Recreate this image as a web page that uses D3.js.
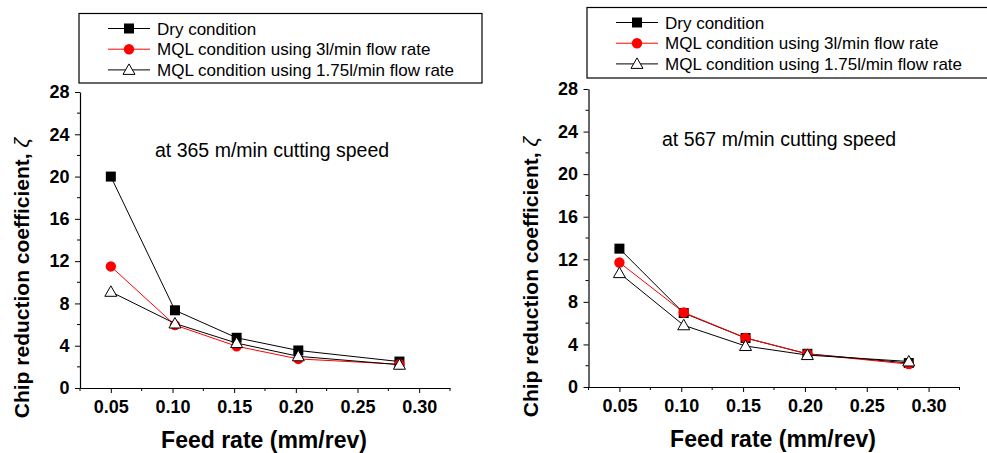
<!DOCTYPE html>
<html>
<head>
<meta charset="utf-8">
<script src="https://cdn.jsdelivr.net/npm/d3@7"></script>
<style>
body { margin: 0; background: #fff; }
text { font-family: "Liberation Sans", Arial, sans-serif; }
</style>
</head>
<body>
<div id="chart"></div>
<script>
var w = 987, h = 453

// feed rates (mm/rev)
var feed = [0.05, 0.102, 0.152, 0.202, 0.284]

// chip reduction coefficient at 365 m/min
var dry365 = [20.0, 7.35, 4.75, 3.55, 2.5]
var mql3_365 = [11.5, 5.95, 3.95, 2.75, 2.25]
var mql175_365 = [9.1, 6.1, 4.25, 3.0, 2.2]

// chip reduction coefficient at 567 m/min
var dry567 = [13.0, 6.95, 4.6, 3.12, 2.25]
var mql3_567 = [11.7, 7.0, 4.62, 3.1, 2.15]
var mql175_567 = [10.7, 5.8, 3.85, 3.0, 2.4]

var xTicks = [0.05, 0.10, 0.15, 0.20, 0.25, 0.30]
var yTicks = [0, 4, 8, 12, 16, 20, 24, 28]
var seriesNames = ["Dry condition", "MQL condition using 3l/min flow rate", "MQL condition using 1.75l/min flow rate"]

var svg = d3.select("#chart")
	.append("svg")
	.attr("width", w)
	.attr("height", h)

var styles = [
	{color: "#000", marker: "square"},
	{color: "#ff0000", marker: "circle"},
	{color: "#000", marker: "triangle"}
]

function drawMarker(g, type, x, y, color) {
	if (type == "square") {
		g.append("rect")
			.attr("x", x - 5).attr("y", y - 5)
			.attr("width", 10).attr("height", 10)
			.attr("fill", "#000")
	} else if (type == "circle") {
		g.append("circle")
			.attr("cx", x).attr("cy", y).attr("r", 5.2)
			.attr("fill", color)
	} else {
		g.append("path")
			.attr("d", "M" + x + "," + (y - 6) + "L" + (x + 6) + "," + (y + 4.5) + "L" + (x - 6) + "," + (y + 4.5) + "Z")
			.attr("fill", "#fff")
			.attr("stroke", "#000")
			.attr("stroke-width", 1)
	}
}

function drawPanel(p) {
	var g = svg.append("g")

	var x = d3.scaleLinear().domain([0.025, 0.325]).range(p.xr)
	var y = d3.scaleLinear().domain([0, 28]).range(p.yr)

	// minor ticks
	var minorY = d3.range(2, 28, 4)
	g.selectAll(".minY").data(minorY).enter().append("line")
		.attr("x1", p.xr[0] - 3).attr("x2", p.xr[0])
		.attr("y1", function(d) {return y(d)}).attr("y2", function(d) {return y(d)})
		.attr("stroke", "#000")
	var minorX = [0.025, 0.075, 0.125, 0.175, 0.225, 0.275, 0.325]
	g.selectAll(".minX").data(minorX).enter().append("line")
		.attr("y1", p.yr[0]).attr("y2", p.yr[0] + 3)
		.attr("x1", function(d) {return x(d)}).attr("x2", function(d) {return x(d)})
		.attr("stroke", "#000")

	var xAxis = g.append("g")
		.attr("transform", "translate(0," + p.yr[0] + ")")
		.call(d3.axisBottom(x).tickValues(xTicks).tickFormat(d3.format(".2f")).tickSize(5).tickSizeOuter(0))
	var yAxis = g.append("g")
		.attr("transform", "translate(" + p.xr[0] + ",0)")
		.call(d3.axisLeft(y).tickValues(yTicks).tickSize(5).tickSizeOuter(0))

	;[xAxis, yAxis].forEach(function(a) {
		a.select(".domain").attr("stroke", "#000").attr("stroke-width", 1.2)
		a.selectAll("text")
			.style("font-family", "'Liberation Sans', Arial, sans-serif")
			.style("font-size", "18px")
			.style("font-weight", "bold")
			.attr("fill", "#000")
	})
	xAxis.selectAll("text").attr("dy", "0.93em")
	yAxis.selectAll("text").attr("x", -10.5)

	// axis titles
	g.append("text")
		.attr("x", (p.xr[0] + p.xr[1]) / 2 - 1)
		.attr("y", p.yr[0] + 60)
		.attr("text-anchor", "middle")
		.style("font-size", "23px")
		.style("font-weight", "bold")
		.text("Feed rate (mm/rev)")

	var yt = g.append("text")
		.attr("transform", "translate(" + (p.xr[0] - 51) + "," + (p.yr[0] - 110) + ") rotate(-90)")
		.attr("text-anchor", "middle")
		.style("font-size", "21px")
		.style("font-weight", "bold")
	yt.append("tspan").text("Chip reduction coefficient, ")
	yt.append("tspan").style("font-weight", "normal").style("font-style", "italic").text("ζ")

	// annotation
	g.append("text")
		.attr("x", p.note[0]).attr("y", p.note[1])
		.style("font-size", "19.5px")
		.text(p.noteText)

	// series
	var line = d3.line()
		.x(function(d) {return x(d[0])})
		.y(function(d) {return y(d[1])})

	p.series.forEach(function(vals, i) {
		var pts = feed.map(function(f, j) {return [f, vals[j]]})
		var sg = g.append("g")
		sg.append("path")
			.attr("d", line(pts))
			.attr("fill", "none")
			.attr("stroke", styles[i].color)
			.attr("stroke-width", 1)
		pts.forEach(function(d) {
			drawMarker(sg, styles[i].marker, x(d[0]), y(d[1]), styles[i].color)
		})
	})

	// legend
	var lg = g.append("g")
	lg.append("rect")
		.attr("x", p.leg[0]).attr("y", p.leg[1])
		.attr("width", p.leg[2]).attr("height", p.leg[3])
		.attr("fill", "#fff").attr("stroke", "#000").attr("stroke-width", 1.2)
	seriesNames.forEach(function(name, i) {
		var ly = p.leg[1] + 15 + i * 20.7
		var lx = p.leg[0] + 29
		lg.append("line")
			.attr("x1", lx).attr("x2", lx + 42)
			.attr("y1", ly).attr("y2", ly)
			.attr("stroke", styles[i].color)
		drawMarker(lg, styles[i].marker, lx + 21, ly, styles[i].color)
		lg.append("text")
			.attr("x", lx + 49).attr("y", ly + 6)
			.style("font-size", "17px")
			.text(name)
	})
}

drawPanel({
	xr: [80, 450], yr: [388, 92],
	series: [dry365, mql3_365, mql175_365],
	note: [155, 157], noteText: "at 365 m/min cutting speed",
	leg: [79, 13.5, 403, 69.5]
})

drawPanel({
	xr: [588.5, 959.5], yr: [387, 89],
	series: [dry567, mql3_567, mql175_567],
	note: [662, 146], noteText: "at 567 m/min cutting speed",
	leg: [587, 7.5, 420, 70.5]
})
</script>
</body>
</html>
